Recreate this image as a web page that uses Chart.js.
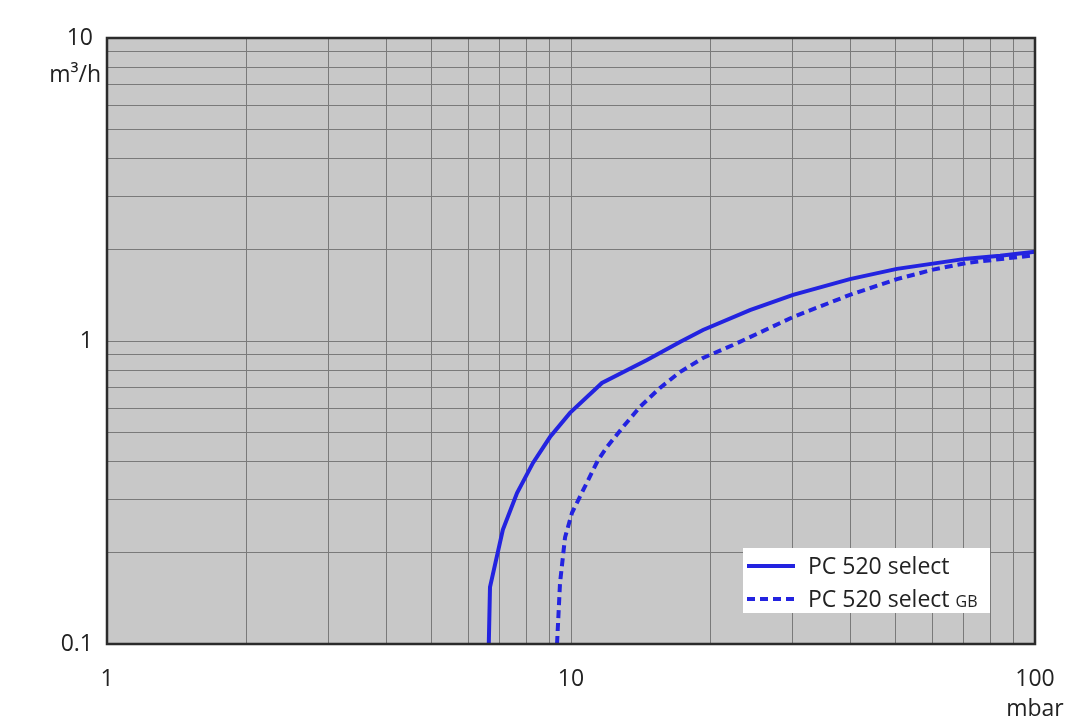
<!DOCTYPE html>
<html>
<head>
<meta charset="utf-8">
<script src="https://cdn.jsdelivr.net/npm/chart.js@4"></script>
<style>
  html, body { margin: 0; padding: 0; background: #fff; }
  #wrap { width: 1080px; height: 721px; }
</style>
</head>
<body>
<div id="wrap"><canvas id="chart"></canvas></div>
<script>
// pressure (mbar) vs pumping speed (m³/h)
const selectP = [6.65, 6.69, 7.13, 7.65, 8.28, 9.01, 9.95, 11.66, 14.58, 17.17, 19.25, 24.3, 30.1, 39.9, 50.4, 71.3, 84.1, 100];
const selectQ = [0.1, 0.154, 0.238, 0.315, 0.396, 0.482, 0.579, 0.727, 0.866, 0.993, 1.087, 1.265, 1.42, 1.60, 1.73, 1.87, 1.91, 1.97];

const gbP = [9.33, 9.47, 9.71, 10.05, 10.45, 11.44, 11.96, 12.94, 14.08, 15.55, 17.17, 19.25, 22.34, 30.1, 39.9, 50.4, 60.3, 71.3, 100];
const gbQ = [0.1, 0.159, 0.225, 0.271, 0.306, 0.405, 0.447, 0.520, 0.606, 0.700, 0.790, 0.879, 0.970, 1.20, 1.42, 1.60, 1.72, 1.81, 1.92];

const xTicks = [1, 2, 3, 4, 5, 6, 7, 8, 9, 10, 20, 30, 40, 50, 60, 70, 80, 90, 100];
const yTicks = [0.1, 0.2, 0.3, 0.4, 0.5, 0.6, 0.7, 0.8, 0.9, 1, 2, 3, 4, 5, 6, 7, 8, 9, 10];
const labelledTicks = [0.1, 1, 10, 100];

const FONT = '"Open Sans", "DejaVu Sans", sans-serif';
const LINE_COLOR = '#2323e0';

function zip(xs, ys) {
    return xs.map((x, i) => ({ x: x, y: ys[i] }));
}

function showLabel(value) {
    return labelledTicks.some(v => Math.abs(v - value) < 1e-9) ? String(value) : '';
}

// grey plot background and dark frame
const frame = {
    id: 'frame',
    beforeDraw(chart) {
        const { ctx, chartArea: a } = chart;
        ctx.save();
        ctx.fillStyle = '#c8c8c8';
        ctx.fillRect(a.left, a.top, a.right - a.left, a.bottom - a.top);
        ctx.restore();
    },
    afterDatasetsDraw(chart) {
        const { ctx, chartArea: a } = chart;
        ctx.save();
        ctx.strokeStyle = '#2b2b2b';
        ctx.lineWidth = 2.5;
        ctx.strokeRect(a.left, a.top, a.right - a.left, a.bottom - a.top);
        ctx.restore();
    },
    afterDraw(chart) {
        const { ctx, scales } = chart;
        ctx.save();
        ctx.fillStyle = '#222';
        ctx.font = '23px ' + FONT;
        // unit labels under the end ticks
        ctx.textAlign = 'right';
        ctx.textBaseline = 'middle';
        ctx.fillText('m³/h', scales.y.left + scales.y.width - 6, scales.y.getPixelForValue(10) + 37);
        ctx.textAlign = 'center';
        ctx.fillText('mbar', scales.x.getPixelForValue(100), scales.x.top + 65);
        ctx.restore();
    }
};

// legend box inside the plot, lower right
const boxLegend = {
    id: 'boxLegend',
    afterDraw(chart) {
        const { ctx, chartArea: a } = chart;
        const w = 247, h = 65;
        const x0 = a.right - 45 - w, y0 = a.bottom - 31 - h;
        ctx.save();
        ctx.fillStyle = '#ffffff';
        ctx.fillRect(x0, y0, w, h);
        chart.data.datasets.forEach((ds, i) => {
            const y = y0 + 18 + i * 33;
            ctx.strokeStyle = ds.borderColor;
            ctx.lineWidth = 4;
            ctx.setLineDash(ds.borderDash || []);
            ctx.beginPath();
            ctx.moveTo(x0 + 4, y);
            ctx.lineTo(x0 + 52, y);
            ctx.stroke();
            ctx.setLineDash([]);
            ctx.fillStyle = '#222';
            ctx.textAlign = 'left';
            ctx.textBaseline = 'alphabetic';
            ctx.font = '23px ' + FONT;
            ctx.fillText(ds.label, x0 + 65, y + 8);
            if (ds.suffix) {
                const tw = ctx.measureText(ds.label + ' ').width;
                ctx.font = '16px ' + FONT;
                ctx.fillText(ds.suffix, x0 + 65 + tw, y + 8);
            }
        });
        ctx.restore();
    }
};

new Chart(document.getElementById('chart'), {
    type: 'line',
    data: {
        datasets: [{
            label: 'PC 520 select',
            data: zip(selectP, selectQ),
            borderColor: LINE_COLOR,
            borderWidth: 4,
            pointRadius: 0,
            tension: 0,
            fill: false
        }, {
            label: 'PC 520 select',
            suffix: 'GB',
            data: zip(gbP, gbQ),
            borderColor: LINE_COLOR,
            borderWidth: 4,
            borderDash: [8, 5],
            pointRadius: 0,
            tension: 0,
            fill: false
        }]
    },
    options: {
        responsive: true,
        maintainAspectRatio: false,
        animation: false,
        layout: { padding: { top: 38, right: 45, left: 0, bottom: 0 } },
        plugins: {
            legend: { display: false },
            tooltip: { enabled: false }
        },
        scales: {
            x: {
                type: 'logarithmic',
                min: 1,
                max: 100,
                afterBuildTicks(scale) { scale.ticks = xTicks.map(v => ({ value: v })); },
                afterFit(scale) { scale.height = 77; },
                grid: { color: '#7a7a7a', lineWidth: 1, drawTicks: false },
                border: { display: false },
                ticks: {
                    autoSkip: false,
                    maxRotation: 0,
                    padding: 22,
                    color: '#222',
                    font: { family: FONT, size: 23 },
                    callback: v => showLabel(v)
                }
            },
            y: {
                type: 'logarithmic',
                min: 0.1,
                max: 10,
                afterBuildTicks(scale) { scale.ticks = yTicks.map(v => ({ value: v })); },
                afterFit(scale) { scale.width = 107; },
                grid: { color: '#7a7a7a', lineWidth: 1, drawTicks: false },
                border: { display: false },
                ticks: {
                    autoSkip: false,
                    padding: 14,
                    color: '#222',
                    font: { family: FONT, size: 23 },
                    callback: v => showLabel(v)
                }
            }
        }
    },
    plugins: [frame, boxLegend]
});
</script>
</body>
</html>
